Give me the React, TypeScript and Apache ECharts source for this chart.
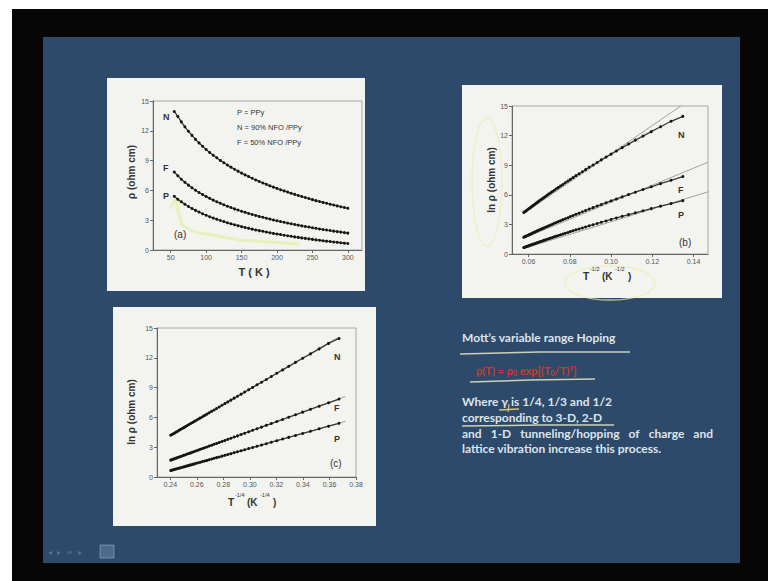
import React, { useEffect, useRef } from "react";
import * as echarts from "echarts";

// Temperature points (K)
const temperatureK = [55, 60, 65, 70, 75, 80, 85, 90, 95, 100, 105, 110, 115, 120, 125, 130, 135, 140, 145, 150, 155, 160, 165, 170, 175, 180, 185, 190, 195, 200, 205, 210, 215, 220, 225, 230, 235, 240, 245, 250, 255, 260, 265, 270, 275, 280, 285, 290, 295, 300];
// T^-1/2 for each temperature point (panel b abscissa)
const invSqrtT = [0.1348, 0.1291, 0.124, 0.1195, 0.1155, 0.1118, 0.1085, 0.1054, 0.1026, 0.1, 0.0976, 0.0953, 0.0933, 0.0913, 0.0894, 0.0877, 0.0861, 0.0845, 0.083, 0.0816, 0.0803, 0.0791, 0.0778, 0.0767, 0.0756, 0.0745, 0.0735, 0.0725, 0.0716, 0.0707, 0.0698, 0.069, 0.0682, 0.0674, 0.0667, 0.0659, 0.0652, 0.0645, 0.0639, 0.0632, 0.0626, 0.062, 0.0614, 0.0609, 0.0603, 0.0598, 0.0592, 0.0587, 0.0582, 0.0577];
// T^-1/4 for each temperature point (panel c abscissa)
const invQuarterT = [0.3672, 0.3593, 0.3522, 0.3457, 0.3398, 0.3344, 0.3293, 0.3247, 0.3203, 0.3162, 0.3124, 0.3088, 0.3054, 0.3021, 0.2991, 0.2961, 0.2934, 0.2907, 0.2882, 0.2857, 0.2834, 0.2812, 0.279, 0.2769, 0.2749, 0.273, 0.2712, 0.2693, 0.2676, 0.2659, 0.2643, 0.2627, 0.2612, 0.2597, 0.2582, 0.2568, 0.2554, 0.2541, 0.2528, 0.2515, 0.2502, 0.249, 0.2478, 0.2467, 0.2456, 0.2445, 0.2434, 0.2423, 0.2413, 0.2403];

// ln rho (ohm cm) for the three samples
const lnRhoN = [13.95, 13.45, 12.9, 12.4, 11.95, 11.54, 11.14, 10.78, 10.44, 10.12, 9.82, 9.54, 9.28, 9.02, 8.79, 8.55, 8.34, 8.13, 7.94, 7.74, 7.56, 7.39, 7.22, 7.05, 6.9, 6.75, 6.61, 6.46, 6.33, 6.2, 6.07, 5.95, 5.83, 5.71, 5.6, 5.49, 5.38, 5.28, 5.18, 5.07, 4.97, 4.88, 4.79, 4.7, 4.61, 4.53, 4.44, 4.36, 4.28, 4.2];
const lnRhoF = [7.85, 7.47, 7.13, 6.81, 6.53, 6.26, 6.02, 5.79, 5.58, 5.38, 5.2, 5.02, 4.86, 4.7, 4.55, 4.41, 4.28, 4.14, 4.02, 3.9, 3.79, 3.68, 3.58, 3.48, 3.38, 3.29, 3.2, 3.11, 3.02, 2.94, 2.86, 2.79, 2.71, 2.64, 2.57, 2.5, 2.43, 2.37, 2.31, 2.24, 2.18, 2.12, 2.06, 2.01, 1.96, 1.9, 1.85, 1.8, 1.75, 1.7];
const lnRhoP = [5.41, 5.11, 4.85, 4.6, 4.38, 4.18, 3.99, 3.82, 3.65, 3.5, 3.35, 3.22, 3.09, 2.97, 2.86, 2.74, 2.64, 2.54, 2.45, 2.35, 2.27, 2.18, 2.1, 2.02, 1.95, 1.88, 1.81, 1.74, 1.67, 1.61, 1.55, 1.49, 1.43, 1.38, 1.32, 1.27, 1.22, 1.17, 1.12, 1.07, 1.02, 0.98, 0.93, 0.89, 0.85, 0.81, 0.77, 0.73, 0.69, 0.65];

// straight-line fits (end points) drawn in panels b and c
const fitBx = { N: [0.0577, 0.1338], F: [0.0577, 0.147], P: [0.0577, 0.147] };
const fitBy = { N: [4.1, 15.0], F: [1.6, 9.3], P: [0.55, 6.3] };
const fitCx = { N: [0.2403, 0.366], F: [0.2403, 0.372], P: [0.2403, 0.372] };
const fitCy = { N: [4.2, 14.0], F: [1.7, 8.1], P: [0.65, 5.6] };

// axis tick labels
const ticksA = [50, 100, 150, 200, 250, 300];
const ticksB = [0.06, 0.08, 0.1, 0.12, 0.14];
const ticksC = [0.24, 0.26, 0.28, 0.3, 0.32, 0.34, 0.36, 0.38];

const legendLines = ["P = PPy", "N = 90% NFO /PPy", "F = 50% NFO /PPy"];
const justifiedWords = ["and", "1-D", "tunneling/hopping", "of", "charge", "and"];

const pairs = (xs: number[], ys: number[]) => xs.map((x, i) => [x, ys[i]]);

const FONT = "Liberation Sans";

function App() {
  const ref = useRef<HTMLDivElement>(null);
  useEffect(() => {
    if (!ref.current) return;
    const chart = echarts.init(ref.current, undefined, { renderer: "svg" });

    const gridBase = {
      show: true,
      borderColor: "#a8a8a8",
      borderWidth: 1,
      backgroundColor: "transparent",
    };
    const axisLabelBase = { fontSize: 7, color: "#555", fontFamily: FONT, margin: 4 };
    const axisLineBase = { lineStyle: { color: "#666", width: 1 } };
    const mkX = (gridIndex: number, min: number, max: number, ticks: number[], dec: number) => ({
      type: "value",
      gridIndex,
      min,
      max,
      axisLine: { ...axisLineBase, onZero: false },
      axisTick: { show: true, length: 3, lineStyle: { color: "#666" }, customValues: ticks },
      axisLabel: { ...axisLabelBase, customValues: ticks, formatter: (v: number) => v.toFixed(dec) },
      splitLine: { show: false },
    });
    const mkY = (gridIndex: number) => ({
      type: "value",
      gridIndex,
      min: 0,
      max: 15,
      interval: 3,
      axisLine: { ...axisLineBase, show: true, onZero: false },
      axisTick: { show: true, length: 3, lineStyle: { color: "#666" } },
      axisLabel: { ...axisLabelBase, formatter: (v: number) => String(v) },
      splitLine: { show: false },
    });

    const dataSeries = (name: string, idx: number, d: number[][]) => ({
      name,
      type: "line",
      xAxisIndex: idx,
      yAxisIndex: idx,
      data: d,
      symbol: "circle",
      symbolSize: 3,
      showSymbol: true,
      itemStyle: { color: "#151515" },
      lineStyle: { color: "#3a3a3a", width: 1.3 },
      z: 3,
    });
    const fitSeries = (name: string, idx: number, d: number[][]) => ({
      name,
      type: "line",
      xAxisIndex: idx,
      yAxisIndex: idx,
      data: d,
      symbol: "none",
      lineStyle: { color: "#8c8c8c", width: 0.8 },
      z: 2,
    });

    const txt = (text: string, x: number, y: number, o: any = {}) => ({
      type: "text",
      x,
      y,
      z: 20,
      rotation: o.rotation || 0,
      style: {
        text,
        fill: o.fill || "#333",
        font: o.font || `bold 9px "${FONT}"`,
        textAlign: o.align || "left",
        textVerticalAlign: o.valign || "middle",
        opacity: o.opacity == null ? 1 : o.opacity,
      },
    });

    const slideText = `bold 12px "Lato"`;
    const slideFill = "#dde4ec";
    const yellow = "rgba(236,238,170,0.7)";
    const red = "#c93a2e";

    // justified line layout (463 .. 712)
    const ctx = document.createElement("canvas").getContext("2d");
    let widths = justifiedWords.map((w) => w.length * 6);
    if (ctx) {
      ctx.font = slideText;
      widths = justifiedWords.map((w) => ctx.measureText(w).width);
    }
    const lineLeft = 462;
    const lineRight = 713;
    const totalW = widths.reduce((a, b) => a + b, 0);
    const gap = (lineRight - lineLeft - totalW) / (justifiedWords.length - 1);
    const justifiedEls: any[] = [];
    let cursor = lineLeft;
    justifiedWords.forEach((w, i) => {
      justifiedEls.push(txt(w, cursor, 433, { font: slideText, fill: slideFill }));
      cursor += widths[i] + gap;
    });

    const elements: any[] = [
      // frame + slide background
      { type: "rect", z: -10, shape: { x: 12, y: 9, width: 756, height: 572 }, style: { fill: "#060606" } },
      { type: "rect", z: -9, shape: { x: 43, y: 37, width: 697, height: 526 }, style: { fill: "#2d4a6b" } },
      // white panels
      { type: "rect", z: -8, shape: { x: 107, y: 78, width: 258, height: 213 }, style: { fill: "#f3f4f0" } },
      { type: "rect", z: -8, shape: { x: 462, y: 85, width: 260, height: 213 }, style: { fill: "#f3f4f0" } },
      { type: "rect", z: -8, shape: { x: 113, y: 307, width: 263, height: 219 }, style: { fill: "#f3f4f0" } },

      // panel a texts
      txt("ρ (ohm cm)", 131, 172, { rotation: Math.PI / 2, align: "center", font: `bold 10px "${FONT}"` }),
      txt("T ( K )", 254, 272, { align: "center", font: `bold 11px "${FONT}"` }),
      txt("N", 163, 117),
      txt("F", 163, 168),
      txt("P", 163, 196),
      txt("(a)", 174, 234, { font: `10px "${FONT}"` }),
      txt(legendLines[0], 237, 112, { font: `7.5px "${FONT}"` }),
      txt(legendLines[1], 237, 127, { font: `7.5px "${FONT}"` }),
      txt(legendLines[2], 237, 142, { font: `7.5px "${FONT}"` }),

      // panel b texts
      txt("ln ρ (ohm cm)", 491, 180, { rotation: Math.PI / 2, align: "center", font: `bold 10px "${FONT}"` }),
      txt("T", 583, 276, { font: `bold 10px "${FONT}"` }),
      txt("-1/2", 590, 269, { font: `5.5px "${FONT}"` }),
      txt("(K", 602, 276, { font: `bold 10px "${FONT}"` }),
      txt("-1/2", 615, 269, { font: `5.5px "${FONT}"` }),
      txt(")", 628, 276, { font: `bold 10px "${FONT}"` }),
      txt("N", 678, 135),
      txt("F", 678, 190),
      txt("P", 678, 215),
      txt("(b)", 679, 242, { font: `10px "${FONT}"` }),

      // panel c texts
      txt("ln ρ (ohm cm)", 131, 412, { rotation: Math.PI / 2, align: "center", font: `bold 10px "${FONT}"` }),
      txt("T", 228, 502, { font: `bold 10px "${FONT}"` }),
      txt("-1/4", 235, 495, { font: `5.5px "${FONT}"` }),
      txt("(K", 247, 502, { font: `bold 10px "${FONT}"` }),
      txt("-1/4", 260, 495, { font: `5.5px "${FONT}"` }),
      txt(")", 273, 502, { font: `bold 10px "${FONT}"` }),
      txt("N", 334, 357),
      txt("F", 334, 408),
      txt("P", 334, 439),
      txt("(c)", 330, 463, { font: `10px "${FONT}"` }),

      // yellow hand annotations
      { type: "polyline", z: 1, shape: { points: [[176, 198], [178, 212], [182, 225], [195, 232], [240, 240], [300, 244]] }, style: { stroke: "rgba(214,240,120,0.45)", lineWidth: 3, fill: null } },
      { type: "polyline", z: 1, shape: { points: [[170, 209], [176, 198], [185, 206]] }, style: { stroke: "rgba(214,240,120,0.45)", lineWidth: 2.5, fill: null } },
      { type: "ellipse", z: 15, shape: { cx: 487, cy: 182, rx: 15, ry: 64 }, style: { stroke: yellow, lineWidth: 1.3, fill: null } },
      { type: "ellipse", z: 15, shape: { cx: 610, cy: 283, rx: 45, ry: 17 }, style: { stroke: yellow, lineWidth: 1.3, fill: null } },

      // slide text
      txt("Mott’s variable range Hoping", 462, 337, { font: slideText, fill: slideFill }),
      { type: "polyline", z: 15, shape: { points: [[460, 354], [540, 352], [630, 352]] }, style: { stroke: "rgba(232,232,196,0.85)", lineWidth: 1.5, fill: null } },
      {
        type: "text", z: 20, x: 476, y: 370,
        style: {
          text: "{a|ρ(T) = ρ}{s|0}{a| exp[(T}{s|0}{a|/T)}{u|γ}{a|]}",
          textVerticalAlign: "middle",
          rich: {
            a: { fill: red, font: `bold 11px "Lato"` },
            s: { fill: red, font: `bold 7px "Lato"`, padding: [5, 0, 0, 0] },
            u: { fill: red, font: `bold 7px "Lato"`, padding: [0, 0, 6, 0] },
          },
        },
      },
      { type: "polyline", z: 15, shape: { points: [[470, 382], [530, 380], [595, 379]] }, style: { stroke: "rgba(232,232,196,0.85)", lineWidth: 1.5, fill: null } },
      txt("Where γ is 1/4, 1/3 and 1/2", 462, 401, { font: slideText, fill: slideFill }),
      { type: "polyline", z: 15, shape: { points: [[499, 410], [519, 409]] }, style: { stroke: "rgba(236,220,120,0.85)", lineWidth: 1.5, fill: null } },
      { type: "polyline", z: 15, shape: { points: [[509, 404], [508, 412]] }, style: { stroke: "rgba(236,220,120,0.85)", lineWidth: 1.2, fill: null } },
      txt("corresponding to 3-D, 2-D", 462, 417, { font: slideText, fill: slideFill }),
      { type: "polyline", z: 15, shape: { points: [[462, 426], [540, 425], [614, 425]] }, style: { stroke: "rgba(232,232,196,0.85)", lineWidth: 1.5, fill: null } },
      ...justifiedEls,
      txt("lattice vibration increase this process.", 462, 448, { font: slideText, fill: slideFill }),

      // faint navigation icons
      txt("◂  ▸  ≡  ▸", 48, 552, { font: `8px "DejaVu Sans"`, fill: "rgba(140,165,200,0.45)" }),
      { type: "rect", z: 15, shape: { x: 100, y: 545, width: 14, height: 13 }, style: { fill: "rgba(140,165,200,0.35)", stroke: "rgba(170,190,215,0.5)", lineWidth: 1 } },
    ];

    const option: any = {
      animation: false,
      backgroundColor: "#ffffff",
      grid: [
        { ...gridBase, left: 153, top: 101, width: 209, height: 149 },
        { ...gridBase, left: 512, top: 106, width: 196, height: 148 },
        { ...gridBase, left: 157, top: 328, width: 199, height: 149 },
      ],
      xAxis: [
        mkX(0, 25, 320, ticksA, 0),
        mkX(1, 0.052, 0.147, ticksB, 2),
        mkX(2, 0.23, 0.38, ticksC, 2),
      ],
      yAxis: [mkY(0), mkY(1), mkY(2)],
      series: [
        dataSeries("N (a)", 0, pairs(temperatureK, lnRhoN)),
        dataSeries("F (a)", 0, pairs(temperatureK, lnRhoF)),
        dataSeries("P (a)", 0, pairs(temperatureK, lnRhoP)),
        fitSeries("N fit (b)", 1, pairs(fitBx.N, fitBy.N)),
        fitSeries("F fit (b)", 1, pairs(fitBx.F, fitBy.F)),
        fitSeries("P fit (b)", 1, pairs(fitBx.P, fitBy.P)),
        dataSeries("N (b)", 1, pairs(invSqrtT, lnRhoN)),
        dataSeries("F (b)", 1, pairs(invSqrtT, lnRhoF)),
        dataSeries("P (b)", 1, pairs(invSqrtT, lnRhoP)),
        fitSeries("N fit (c)", 2, pairs(fitCx.N, fitCy.N)),
        fitSeries("F fit (c)", 2, pairs(fitCx.F, fitCy.F)),
        fitSeries("P fit (c)", 2, pairs(fitCx.P, fitCy.P)),
        dataSeries("N (c)", 2, pairs(invQuarterT, lnRhoN)),
        dataSeries("F (c)", 2, pairs(invQuarterT, lnRhoF)),
        dataSeries("P (c)", 2, pairs(invQuarterT, lnRhoP)),
      ],
      graphic: { elements },
    };
    chart.setOption(option);
    return () => chart.dispose();
  }, []);

  return <div ref={ref} style={{ position: "absolute", left: 0, top: 0, width: 768, height: 581 }} />;
}

export default App;
